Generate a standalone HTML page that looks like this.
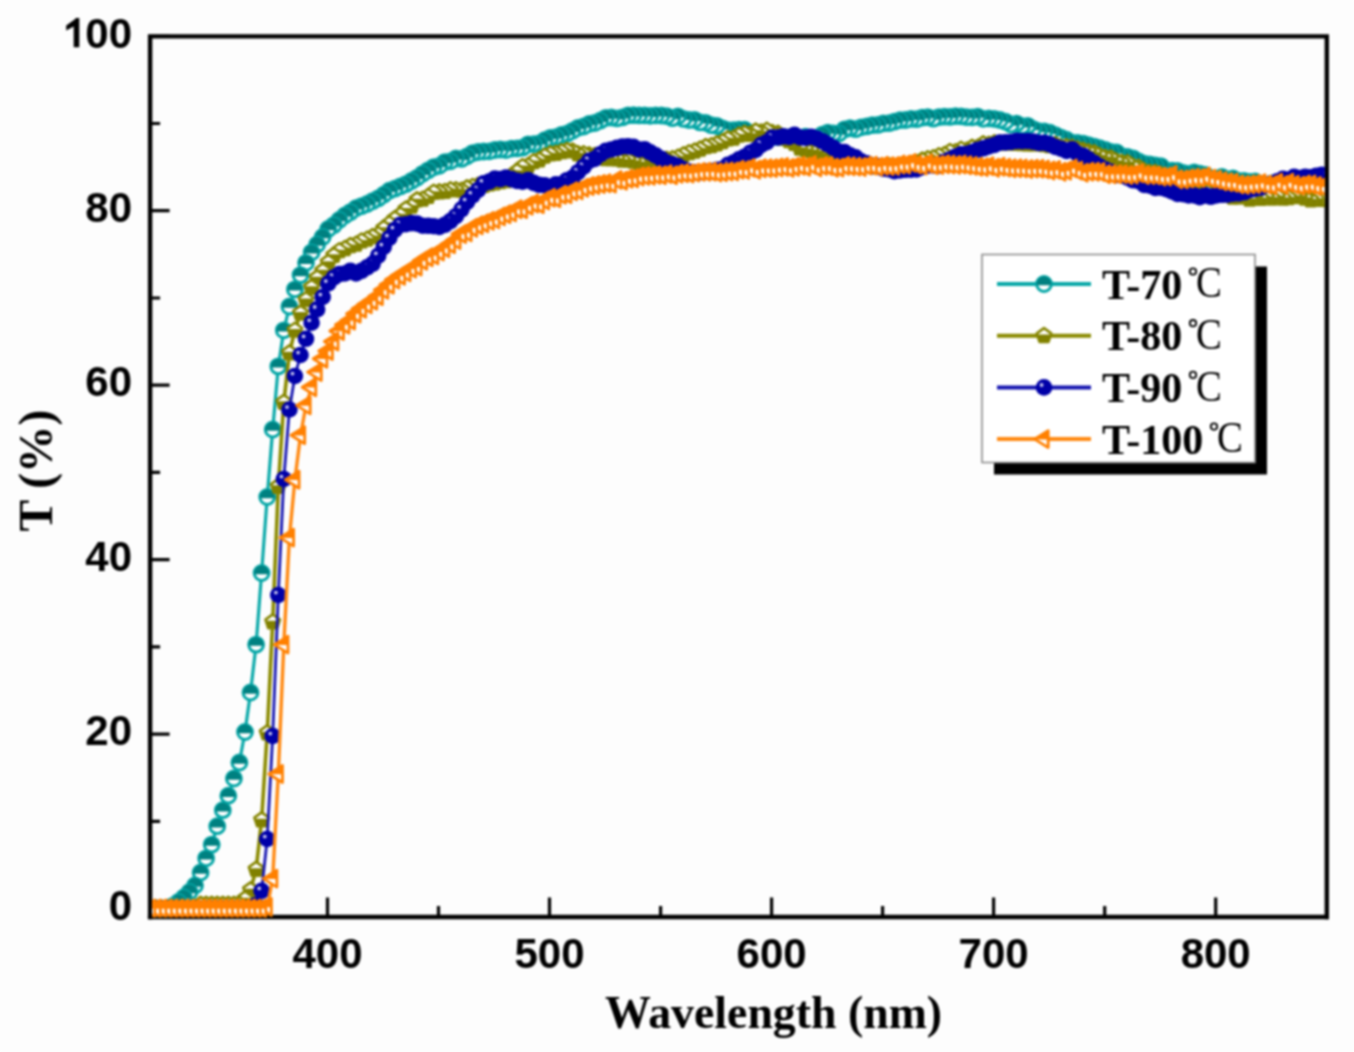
<!DOCTYPE html><html><head><meta charset="utf-8"><style>html,body{margin:0;padding:0;background:#fdfdfd;}svg{display:block;filter:blur(0.8px)}</style></head><body><svg width="1354" height="1052" viewBox="0 0 1354 1052"><defs><clipPath id="cp"><rect x="152.1" y="38.4" width="1172.7" height="879.2"/></clipPath><g id="mt"><circle r="7.4" fill="#fff" stroke="#04a6a6" stroke-width="3"/><path d="M-7.3,1.2A7.4,7.4 0 1 1 7.3,1.2Z" fill="#008080"/></g><g id="mo"><path d="M0,-7.6L7.23,-2.35L4.47,6.15L-4.47,6.15L-7.23,-2.35Z" fill="#fff" stroke="#858500" stroke-width="2.6" stroke-linejoin="round"/><path d="M-6.1,-1.2L6.1,-1.2L4.47,6.15L-4.47,6.15Z" fill="#808000"/></g><g id="mb"><circle r="8.3" fill="#0000a8"/><circle cx="-2.4" cy="-2.4" r="1.9" fill="#c4c4ee"/></g><g id="mr"><path d="M-9.5,0L4.2,-8.5L4.2,8.5Z" fill="#fff" stroke="#ff8000" stroke-width="2.8" stroke-linejoin="round"/><path d="M-9.5,0L4.2,-8.5L4.2,0.3L-9,0.3Z" fill="#ff8000"/></g></defs><rect width="1354" height="1052" fill="#fdfdfd"/><line x1="147.9" y1="917.0" x2="1329.0" y2="917.0" stroke="#000" stroke-width="4.4"/><path d="M150.1,919.2V36.4H1326.8V919.2" fill="none" stroke="#000" stroke-width="4.4" stroke-linejoin="miter"/><path d="M327.5,917.0V897.5M549.5,917.0V897.5M771.6,917.0V897.5M993.6,917.0V897.5M1215.7,917.0V897.5M216.5,917.0V906.0M438.5,917.0V906.0M660.6,917.0V906.0M882.6,917.0V906.0M1104.7,917.0V906.0M1326.7,917.0V906.0M150.1,908.5H169.6M150.1,734.1H169.6M150.1,559.6H169.6M150.1,385.2H169.6M150.1,210.7H169.6M150.1,36.3H169.6M150.1,821.3H160.1M150.1,646.8H160.1M150.1,472.4H160.1M150.1,298H160.1M150.1,123.5H160.1" stroke="#000" stroke-width="3.2" fill="none"/><g clip-path="url(#cp)"><polyline points="150.6,908.5 156.2,908.5 161.7,908.5 167.3,908.5 172.8,906 178.4,902 183.9,897.5 189.5,892 195,885.5 200.6,872.5 206.1,858.3 211.7,844.6 217.2,826.2 222.8,810.2 228.3,795.7 233.9,778.5 239.4,762.5 245,732 250.5,692.5 256.1,644.6 261.6,573 267.2,497 272.7,429.5 278.3,366.4 283.8,330.3 289.4,306.5 294.9,289.4 300.5,275.1 306,262.8 311.6,252.3 317.1,244.5 322.7,237 328.2,229 333.8,225.1 339.3,220 344.9,215.5 350.4,212.1 356,208.2 361.5,206.1 367.1,204 372.6,201.1 378.2,198.4 383.7,194.7 389.3,190.7 394.8,188.7 400.4,186.4 405.9,184.1 411.5,181 417,177.8 422.6,173.8 428.1,170.4 433.7,167.1 439.3,165.8 444.8,162.1 450.4,161.3 455.9,158.5 461.5,158.9 467,156.3 472.6,153.1 478.1,152 483.7,151.5 489.2,151.3 494.8,150 500.3,149.5 505.9,150 511.4,148.7 517,148.4 522.5,147.7 528.1,144.3 533.6,144.2 539.2,143.3 544.7,140.2 550.3,137.9 555.8,137.2 561.4,135 566.9,133.7 572.5,130.8 578,127.8 583.6,126.5 589.1,124 594.7,123 600.2,120.7 605.8,117.9 611.3,117.5 616.9,118.4 622.4,117.4 628,115.4 633.5,115.2 639.1,115.4 644.6,115.4 650.2,115.8 655.7,115.4 661.3,115.5 666.8,116.2 672.4,118.1 677.9,116.3 683.5,118.9 689,120 694.6,119.9 700.1,122.4 705.7,122.8 711.3,125.2 716.8,125.9 722.4,128.3 727.9,130.1 733.5,130.1 739,129.6 744.6,129.7 750.1,133.2 755.7,132.7 761.2,133.2 766.8,134.8 772.3,135.5 777.9,137.1 783.4,137.1 789,137.5 794.5,136.9 800.1,137.9 805.6,136.7 811.2,137.9 816.7,138 822.3,134.6 827.8,132.6 833.4,133.4 838.9,133.5 844.5,129.4 850,128.2 855.6,129.1 861.1,127.3 866.7,126.4 872.2,125.1 877.8,124.9 883.3,123.4 888.9,123.1 894.4,121.7 900,120.2 905.5,120 911.1,118.9 916.6,119.1 922.2,117.6 927.7,117.1 933.3,118.6 938.8,117.1 944.4,116.7 949.9,116.9 955.5,116.1 961,116.3 966.6,117.1 972.1,117.3 977.7,116.6 983.2,118.8 988.8,118.4 994.4,118.9 999.9,120 1005.5,121.6 1011,124.5 1016.6,123.6 1022.1,126.2 1027.7,125.9 1033.2,129.1 1038.8,131.1 1044.3,131.5 1049.9,132.7 1055.4,135.1 1061,137.6 1066.5,139.7 1072.1,142.7 1077.6,142.9 1083.2,143.6 1088.7,145.2 1094.3,146.6 1099.8,148.2 1105.4,149.8 1110.9,151.9 1116.5,152.3 1122,156.2 1127.6,157 1133.1,158.4 1138.7,161.5 1144.2,163.6 1149.8,164.3 1155.3,165.5 1160.9,166.1 1166.4,170.6 1172,170.6 1177.5,170.8 1183.1,173 1188.6,174 1194.2,172.3 1199.7,173.7 1205.3,175 1210.8,178.2 1216.4,179 1221.9,176.9 1227.5,179.6 1233,178.5 1238.6,181 1244.1,180.8 1249.7,181.9 1255.2,181.5 1260.8,184.6 1266.4,185.4 1271.9,183.5 1277.5,185.2 1283,184.9 1288.6,185.9 1294.1,185.3 1299.7,188.1 1305.2,186.2 1310.8,187 1316.3,187.9 1321.9,187.2 1327.4,187.7" fill="none" stroke="#08a8a8" stroke-width="3.2" stroke-linejoin="round"/><g><use href="#mt" x="1327.4" y="187.7"/><use href="#mt" x="1321.9" y="187.2"/><use href="#mt" x="1316.3" y="187.9"/><use href="#mt" x="1310.8" y="187"/><use href="#mt" x="1305.2" y="186.2"/><use href="#mt" x="1299.7" y="188.1"/><use href="#mt" x="1294.1" y="185.3"/><use href="#mt" x="1288.6" y="185.9"/><use href="#mt" x="1283" y="184.9"/><use href="#mt" x="1277.5" y="185.2"/><use href="#mt" x="1271.9" y="183.5"/><use href="#mt" x="1266.4" y="185.4"/><use href="#mt" x="1260.8" y="184.6"/><use href="#mt" x="1255.2" y="181.5"/><use href="#mt" x="1249.7" y="181.9"/><use href="#mt" x="1244.1" y="180.8"/><use href="#mt" x="1238.6" y="181"/><use href="#mt" x="1233" y="178.5"/><use href="#mt" x="1227.5" y="179.6"/><use href="#mt" x="1221.9" y="176.9"/><use href="#mt" x="1216.4" y="179"/><use href="#mt" x="1210.8" y="178.2"/><use href="#mt" x="1205.3" y="175"/><use href="#mt" x="1199.7" y="173.7"/><use href="#mt" x="1194.2" y="172.3"/><use href="#mt" x="1188.6" y="174"/><use href="#mt" x="1183.1" y="173"/><use href="#mt" x="1177.5" y="170.8"/><use href="#mt" x="1172" y="170.6"/><use href="#mt" x="1166.4" y="170.6"/><use href="#mt" x="1160.9" y="166.1"/><use href="#mt" x="1155.3" y="165.5"/><use href="#mt" x="1149.8" y="164.3"/><use href="#mt" x="1144.2" y="163.6"/><use href="#mt" x="1138.7" y="161.5"/><use href="#mt" x="1133.1" y="158.4"/><use href="#mt" x="1127.6" y="157"/><use href="#mt" x="1122" y="156.2"/><use href="#mt" x="1116.5" y="152.3"/><use href="#mt" x="1110.9" y="151.9"/><use href="#mt" x="1105.4" y="149.8"/><use href="#mt" x="1099.8" y="148.2"/><use href="#mt" x="1094.3" y="146.6"/><use href="#mt" x="1088.7" y="145.2"/><use href="#mt" x="1083.2" y="143.6"/><use href="#mt" x="1077.6" y="142.9"/><use href="#mt" x="1072.1" y="142.7"/><use href="#mt" x="1066.5" y="139.7"/><use href="#mt" x="1061" y="137.6"/><use href="#mt" x="1055.4" y="135.1"/><use href="#mt" x="1049.9" y="132.7"/><use href="#mt" x="1044.3" y="131.5"/><use href="#mt" x="1038.8" y="131.1"/><use href="#mt" x="1033.2" y="129.1"/><use href="#mt" x="1027.7" y="125.9"/><use href="#mt" x="1022.1" y="126.2"/><use href="#mt" x="1016.6" y="123.6"/><use href="#mt" x="1011" y="124.5"/><use href="#mt" x="1005.5" y="121.6"/><use href="#mt" x="999.9" y="120"/><use href="#mt" x="994.4" y="118.9"/><use href="#mt" x="988.8" y="118.4"/><use href="#mt" x="983.2" y="118.8"/><use href="#mt" x="977.7" y="116.6"/><use href="#mt" x="972.1" y="117.3"/><use href="#mt" x="966.6" y="117.1"/><use href="#mt" x="961" y="116.3"/><use href="#mt" x="955.5" y="116.1"/><use href="#mt" x="949.9" y="116.9"/><use href="#mt" x="944.4" y="116.7"/><use href="#mt" x="938.8" y="117.1"/><use href="#mt" x="933.3" y="118.6"/><use href="#mt" x="927.7" y="117.1"/><use href="#mt" x="922.2" y="117.6"/><use href="#mt" x="916.6" y="119.1"/><use href="#mt" x="911.1" y="118.9"/><use href="#mt" x="905.5" y="120"/><use href="#mt" x="900" y="120.2"/><use href="#mt" x="894.4" y="121.7"/><use href="#mt" x="888.9" y="123.1"/><use href="#mt" x="883.3" y="123.4"/><use href="#mt" x="877.8" y="124.9"/><use href="#mt" x="872.2" y="125.1"/><use href="#mt" x="866.7" y="126.4"/><use href="#mt" x="861.1" y="127.3"/><use href="#mt" x="855.6" y="129.1"/><use href="#mt" x="850" y="128.2"/><use href="#mt" x="844.5" y="129.4"/><use href="#mt" x="838.9" y="133.5"/><use href="#mt" x="833.4" y="133.4"/><use href="#mt" x="827.8" y="132.6"/><use href="#mt" x="822.3" y="134.6"/><use href="#mt" x="816.7" y="138"/><use href="#mt" x="811.2" y="137.9"/><use href="#mt" x="805.6" y="136.7"/><use href="#mt" x="800.1" y="137.9"/><use href="#mt" x="794.5" y="136.9"/><use href="#mt" x="789" y="137.5"/><use href="#mt" x="783.4" y="137.1"/><use href="#mt" x="777.9" y="137.1"/><use href="#mt" x="772.3" y="135.5"/><use href="#mt" x="766.8" y="134.8"/><use href="#mt" x="761.2" y="133.2"/><use href="#mt" x="755.7" y="132.7"/><use href="#mt" x="750.1" y="133.2"/><use href="#mt" x="744.6" y="129.7"/><use href="#mt" x="739" y="129.6"/><use href="#mt" x="733.5" y="130.1"/><use href="#mt" x="727.9" y="130.1"/><use href="#mt" x="722.4" y="128.3"/><use href="#mt" x="716.8" y="125.9"/><use href="#mt" x="711.3" y="125.2"/><use href="#mt" x="705.7" y="122.8"/><use href="#mt" x="700.1" y="122.4"/><use href="#mt" x="694.6" y="119.9"/><use href="#mt" x="689" y="120"/><use href="#mt" x="683.5" y="118.9"/><use href="#mt" x="677.9" y="116.3"/><use href="#mt" x="672.4" y="118.1"/><use href="#mt" x="666.8" y="116.2"/><use href="#mt" x="661.3" y="115.5"/><use href="#mt" x="655.7" y="115.4"/><use href="#mt" x="650.2" y="115.8"/><use href="#mt" x="644.6" y="115.4"/><use href="#mt" x="639.1" y="115.4"/><use href="#mt" x="633.5" y="115.2"/><use href="#mt" x="628" y="115.4"/><use href="#mt" x="622.4" y="117.4"/><use href="#mt" x="616.9" y="118.4"/><use href="#mt" x="611.3" y="117.5"/><use href="#mt" x="605.8" y="117.9"/><use href="#mt" x="600.2" y="120.7"/><use href="#mt" x="594.7" y="123"/><use href="#mt" x="589.1" y="124"/><use href="#mt" x="583.6" y="126.5"/><use href="#mt" x="578" y="127.8"/><use href="#mt" x="572.5" y="130.8"/><use href="#mt" x="566.9" y="133.7"/><use href="#mt" x="561.4" y="135"/><use href="#mt" x="555.8" y="137.2"/><use href="#mt" x="550.3" y="137.9"/><use href="#mt" x="544.7" y="140.2"/><use href="#mt" x="539.2" y="143.3"/><use href="#mt" x="533.6" y="144.2"/><use href="#mt" x="528.1" y="144.3"/><use href="#mt" x="522.5" y="147.7"/><use href="#mt" x="517" y="148.4"/><use href="#mt" x="511.4" y="148.7"/><use href="#mt" x="505.9" y="150"/><use href="#mt" x="500.3" y="149.5"/><use href="#mt" x="494.8" y="150"/><use href="#mt" x="489.2" y="151.3"/><use href="#mt" x="483.7" y="151.5"/><use href="#mt" x="478.1" y="152"/><use href="#mt" x="472.6" y="153.1"/><use href="#mt" x="467" y="156.3"/><use href="#mt" x="461.5" y="158.9"/><use href="#mt" x="455.9" y="158.5"/><use href="#mt" x="450.4" y="161.3"/><use href="#mt" x="444.8" y="162.1"/><use href="#mt" x="439.3" y="165.8"/><use href="#mt" x="433.7" y="167.1"/><use href="#mt" x="428.1" y="170.4"/><use href="#mt" x="422.6" y="173.8"/><use href="#mt" x="417" y="177.8"/><use href="#mt" x="411.5" y="181"/><use href="#mt" x="405.9" y="184.1"/><use href="#mt" x="400.4" y="186.4"/><use href="#mt" x="394.8" y="188.7"/><use href="#mt" x="389.3" y="190.7"/><use href="#mt" x="383.7" y="194.7"/><use href="#mt" x="378.2" y="198.4"/><use href="#mt" x="372.6" y="201.1"/><use href="#mt" x="367.1" y="204"/><use href="#mt" x="361.5" y="206.1"/><use href="#mt" x="356" y="208.2"/><use href="#mt" x="350.4" y="212.1"/><use href="#mt" x="344.9" y="215.5"/><use href="#mt" x="339.3" y="220"/><use href="#mt" x="333.8" y="225.1"/><use href="#mt" x="328.2" y="229"/><use href="#mt" x="322.7" y="237"/><use href="#mt" x="317.1" y="244.5"/><use href="#mt" x="311.6" y="252.3"/><use href="#mt" x="306" y="262.8"/><use href="#mt" x="300.5" y="275.1"/><use href="#mt" x="294.9" y="289.4"/><use href="#mt" x="289.4" y="306.5"/><use href="#mt" x="283.8" y="330.3"/><use href="#mt" x="278.3" y="366.4"/><use href="#mt" x="272.7" y="429.5"/><use href="#mt" x="267.2" y="497"/><use href="#mt" x="261.6" y="573"/><use href="#mt" x="256.1" y="644.6"/><use href="#mt" x="250.5" y="692.5"/><use href="#mt" x="245" y="732"/><use href="#mt" x="239.4" y="762.5"/><use href="#mt" x="233.9" y="778.5"/><use href="#mt" x="228.3" y="795.7"/><use href="#mt" x="222.8" y="810.2"/><use href="#mt" x="217.2" y="826.2"/><use href="#mt" x="211.7" y="844.6"/><use href="#mt" x="206.1" y="858.3"/><use href="#mt" x="200.6" y="872.5"/><use href="#mt" x="195" y="885.5"/><use href="#mt" x="189.5" y="892"/><use href="#mt" x="183.9" y="897.5"/><use href="#mt" x="178.4" y="902"/><use href="#mt" x="172.8" y="906"/><use href="#mt" x="167.3" y="908.5"/><use href="#mt" x="161.7" y="908.5"/><use href="#mt" x="156.2" y="908.5"/><use href="#mt" x="150.6" y="908.5"/></g><polyline points="150.6,908.5 156.2,908.5 161.7,908.5 167.3,908.5 172.8,908.5 178.4,908.5 183.9,908.5 189.5,908.5 195,908.5 200.6,904.5 206.1,904.5 211.7,904.5 217.2,904.5 222.8,904.5 228.3,904.5 233.9,904.5 239.4,904.5 245,899 250.5,890 256.1,869.5 261.6,820 267.2,733 272.7,622 278.3,486.5 283.8,402.5 289.4,353 294.9,330.3 300.5,313.2 306,299.8 311.6,287.5 317.1,278 322.7,271 328.2,262.5 333.8,255.5 339.3,250.9 344.9,248.7 350.4,245.7 356,244.4 361.5,241.1 367.1,239.3 372.6,236.7 378.2,234.6 383.7,228.5 389.3,223.8 394.8,219 400.4,215 405.9,209.2 411.5,206.2 417,200 422.6,199.4 428.1,196.6 433.7,192.4 439.3,192 444.8,191.6 450.4,189.8 455.9,189.9 461.5,190.4 467,188 472.6,186.6 478.1,185.4 483.7,185.6 489.2,184 494.8,183 500.3,181.9 505.9,180.9 511.4,176.2 517,171.5 522.5,166.8 528.1,165.9 533.6,161.8 539.2,160 544.7,156.3 550.3,154 555.8,153.5 561.4,151.9 566.9,150.5 572.5,151.1 578,154 583.6,153.9 589.1,155 594.7,155.7 600.2,156.5 605.8,158.7 611.3,158.9 616.9,159.1 622.4,160.3 628,160.1 633.5,161.4 639.1,162.6 644.6,161.2 650.2,163.1 655.7,161.2 661.3,161.2 666.8,159.5 672.4,158.8 677.9,157.3 683.5,155 689,152.9 694.6,151.2 700.1,149.2 705.7,146.7 711.3,145.8 716.8,144 722.4,141.8 727.9,139 733.5,138.4 739,135.2 744.6,133.5 750.1,134.5 755.7,131.2 761.2,132.1 766.8,130.3 772.3,132.7 777.9,133.5 783.4,138.4 789,140.8 794.5,143.6 800.1,148.4 805.6,149.6 811.2,150.6 816.7,151.5 822.3,153.5 827.8,154.9 833.4,157.2 838.9,158.8 844.5,159.1 850,160.6 855.6,162.1 861.1,163 866.7,165.1 872.2,166.3 877.8,167.1 883.3,167.6 888.9,165.9 894.4,166.9 900,165.7 905.5,166.6 911.1,163.7 916.6,162.9 922.2,160.2 927.7,158.8 933.3,157.9 938.8,155.8 944.4,154.7 949.9,151.6 955.5,152 961,149.4 966.6,150.3 972.1,147.5 977.7,147.4 983.2,144 988.8,144.4 994.4,142.9 999.9,143.1 1005.5,143.4 1011,143.1 1016.6,143.5 1022.1,143.9 1027.7,144.1 1033.2,144.1 1038.8,143.7 1044.3,144.8 1049.9,145.8 1055.4,144.7 1061,147.4 1066.5,147 1072.1,147.5 1077.6,149.2 1083.2,150.5 1088.7,152 1094.3,153 1099.8,155.9 1105.4,157.6 1110.9,158.2 1116.5,161.4 1122,162.7 1127.6,162.8 1133.1,166.6 1138.7,167.5 1144.2,171.2 1149.8,172.6 1155.3,172.7 1160.9,174.6 1166.4,177.2 1172,179 1177.5,182.6 1183.1,184 1188.6,185.1 1194.2,187.5 1199.7,187 1205.3,190.5 1210.8,192.4 1216.4,192.7 1221.9,193.4 1227.5,195.4 1233,197.4 1238.6,197 1244.1,196.7 1249.7,199.4 1255.2,196.9 1260.8,198.6 1266.4,197.4 1271.9,198.2 1277.5,196.6 1283,198.4 1288.6,197.9 1294.1,196.6 1299.7,196.8 1305.2,198.4 1310.8,200 1316.3,199.4 1321.9,199.6 1327.4,199.7" fill="none" stroke="#8a8a00" stroke-width="3.6" stroke-linejoin="round"/><g><use href="#mo" x="1327.4" y="199.7"/><use href="#mo" x="1321.9" y="199.6"/><use href="#mo" x="1316.3" y="199.4"/><use href="#mo" x="1310.8" y="200"/><use href="#mo" x="1305.2" y="198.4"/><use href="#mo" x="1299.7" y="196.8"/><use href="#mo" x="1294.1" y="196.6"/><use href="#mo" x="1288.6" y="197.9"/><use href="#mo" x="1283" y="198.4"/><use href="#mo" x="1277.5" y="196.6"/><use href="#mo" x="1271.9" y="198.2"/><use href="#mo" x="1266.4" y="197.4"/><use href="#mo" x="1260.8" y="198.6"/><use href="#mo" x="1255.2" y="196.9"/><use href="#mo" x="1249.7" y="199.4"/><use href="#mo" x="1244.1" y="196.7"/><use href="#mo" x="1238.6" y="197"/><use href="#mo" x="1233" y="197.4"/><use href="#mo" x="1227.5" y="195.4"/><use href="#mo" x="1221.9" y="193.4"/><use href="#mo" x="1216.4" y="192.7"/><use href="#mo" x="1210.8" y="192.4"/><use href="#mo" x="1205.3" y="190.5"/><use href="#mo" x="1199.7" y="187"/><use href="#mo" x="1194.2" y="187.5"/><use href="#mo" x="1188.6" y="185.1"/><use href="#mo" x="1183.1" y="184"/><use href="#mo" x="1177.5" y="182.6"/><use href="#mo" x="1172" y="179"/><use href="#mo" x="1166.4" y="177.2"/><use href="#mo" x="1160.9" y="174.6"/><use href="#mo" x="1155.3" y="172.7"/><use href="#mo" x="1149.8" y="172.6"/><use href="#mo" x="1144.2" y="171.2"/><use href="#mo" x="1138.7" y="167.5"/><use href="#mo" x="1133.1" y="166.6"/><use href="#mo" x="1127.6" y="162.8"/><use href="#mo" x="1122" y="162.7"/><use href="#mo" x="1116.5" y="161.4"/><use href="#mo" x="1110.9" y="158.2"/><use href="#mo" x="1105.4" y="157.6"/><use href="#mo" x="1099.8" y="155.9"/><use href="#mo" x="1094.3" y="153"/><use href="#mo" x="1088.7" y="152"/><use href="#mo" x="1083.2" y="150.5"/><use href="#mo" x="1077.6" y="149.2"/><use href="#mo" x="1072.1" y="147.5"/><use href="#mo" x="1066.5" y="147"/><use href="#mo" x="1061" y="147.4"/><use href="#mo" x="1055.4" y="144.7"/><use href="#mo" x="1049.9" y="145.8"/><use href="#mo" x="1044.3" y="144.8"/><use href="#mo" x="1038.8" y="143.7"/><use href="#mo" x="1033.2" y="144.1"/><use href="#mo" x="1027.7" y="144.1"/><use href="#mo" x="1022.1" y="143.9"/><use href="#mo" x="1016.6" y="143.5"/><use href="#mo" x="1011" y="143.1"/><use href="#mo" x="1005.5" y="143.4"/><use href="#mo" x="999.9" y="143.1"/><use href="#mo" x="994.4" y="142.9"/><use href="#mo" x="988.8" y="144.4"/><use href="#mo" x="983.2" y="144"/><use href="#mo" x="977.7" y="147.4"/><use href="#mo" x="972.1" y="147.5"/><use href="#mo" x="966.6" y="150.3"/><use href="#mo" x="961" y="149.4"/><use href="#mo" x="955.5" y="152"/><use href="#mo" x="949.9" y="151.6"/><use href="#mo" x="944.4" y="154.7"/><use href="#mo" x="938.8" y="155.8"/><use href="#mo" x="933.3" y="157.9"/><use href="#mo" x="927.7" y="158.8"/><use href="#mo" x="922.2" y="160.2"/><use href="#mo" x="916.6" y="162.9"/><use href="#mo" x="911.1" y="163.7"/><use href="#mo" x="905.5" y="166.6"/><use href="#mo" x="900" y="165.7"/><use href="#mo" x="894.4" y="166.9"/><use href="#mo" x="888.9" y="165.9"/><use href="#mo" x="883.3" y="167.6"/><use href="#mo" x="877.8" y="167.1"/><use href="#mo" x="872.2" y="166.3"/><use href="#mo" x="866.7" y="165.1"/><use href="#mo" x="861.1" y="163"/><use href="#mo" x="855.6" y="162.1"/><use href="#mo" x="850" y="160.6"/><use href="#mo" x="844.5" y="159.1"/><use href="#mo" x="838.9" y="158.8"/><use href="#mo" x="833.4" y="157.2"/><use href="#mo" x="827.8" y="154.9"/><use href="#mo" x="822.3" y="153.5"/><use href="#mo" x="816.7" y="151.5"/><use href="#mo" x="811.2" y="150.6"/><use href="#mo" x="805.6" y="149.6"/><use href="#mo" x="800.1" y="148.4"/><use href="#mo" x="794.5" y="143.6"/><use href="#mo" x="789" y="140.8"/><use href="#mo" x="783.4" y="138.4"/><use href="#mo" x="777.9" y="133.5"/><use href="#mo" x="772.3" y="132.7"/><use href="#mo" x="766.8" y="130.3"/><use href="#mo" x="761.2" y="132.1"/><use href="#mo" x="755.7" y="131.2"/><use href="#mo" x="750.1" y="134.5"/><use href="#mo" x="744.6" y="133.5"/><use href="#mo" x="739" y="135.2"/><use href="#mo" x="733.5" y="138.4"/><use href="#mo" x="727.9" y="139"/><use href="#mo" x="722.4" y="141.8"/><use href="#mo" x="716.8" y="144"/><use href="#mo" x="711.3" y="145.8"/><use href="#mo" x="705.7" y="146.7"/><use href="#mo" x="700.1" y="149.2"/><use href="#mo" x="694.6" y="151.2"/><use href="#mo" x="689" y="152.9"/><use href="#mo" x="683.5" y="155"/><use href="#mo" x="677.9" y="157.3"/><use href="#mo" x="672.4" y="158.8"/><use href="#mo" x="666.8" y="159.5"/><use href="#mo" x="661.3" y="161.2"/><use href="#mo" x="655.7" y="161.2"/><use href="#mo" x="650.2" y="163.1"/><use href="#mo" x="644.6" y="161.2"/><use href="#mo" x="639.1" y="162.6"/><use href="#mo" x="633.5" y="161.4"/><use href="#mo" x="628" y="160.1"/><use href="#mo" x="622.4" y="160.3"/><use href="#mo" x="616.9" y="159.1"/><use href="#mo" x="611.3" y="158.9"/><use href="#mo" x="605.8" y="158.7"/><use href="#mo" x="600.2" y="156.5"/><use href="#mo" x="594.7" y="155.7"/><use href="#mo" x="589.1" y="155"/><use href="#mo" x="583.6" y="153.9"/><use href="#mo" x="578" y="154"/><use href="#mo" x="572.5" y="151.1"/><use href="#mo" x="566.9" y="150.5"/><use href="#mo" x="561.4" y="151.9"/><use href="#mo" x="555.8" y="153.5"/><use href="#mo" x="550.3" y="154"/><use href="#mo" x="544.7" y="156.3"/><use href="#mo" x="539.2" y="160"/><use href="#mo" x="533.6" y="161.8"/><use href="#mo" x="528.1" y="165.9"/><use href="#mo" x="522.5" y="166.8"/><use href="#mo" x="517" y="171.5"/><use href="#mo" x="511.4" y="176.2"/><use href="#mo" x="505.9" y="180.9"/><use href="#mo" x="500.3" y="181.9"/><use href="#mo" x="494.8" y="183"/><use href="#mo" x="489.2" y="184"/><use href="#mo" x="483.7" y="185.6"/><use href="#mo" x="478.1" y="185.4"/><use href="#mo" x="472.6" y="186.6"/><use href="#mo" x="467" y="188"/><use href="#mo" x="461.5" y="190.4"/><use href="#mo" x="455.9" y="189.9"/><use href="#mo" x="450.4" y="189.8"/><use href="#mo" x="444.8" y="191.6"/><use href="#mo" x="439.3" y="192"/><use href="#mo" x="433.7" y="192.4"/><use href="#mo" x="428.1" y="196.6"/><use href="#mo" x="422.6" y="199.4"/><use href="#mo" x="417" y="200"/><use href="#mo" x="411.5" y="206.2"/><use href="#mo" x="405.9" y="209.2"/><use href="#mo" x="400.4" y="215"/><use href="#mo" x="394.8" y="219"/><use href="#mo" x="389.3" y="223.8"/><use href="#mo" x="383.7" y="228.5"/><use href="#mo" x="378.2" y="234.6"/><use href="#mo" x="372.6" y="236.7"/><use href="#mo" x="367.1" y="239.3"/><use href="#mo" x="361.5" y="241.1"/><use href="#mo" x="356" y="244.4"/><use href="#mo" x="350.4" y="245.7"/><use href="#mo" x="344.9" y="248.7"/><use href="#mo" x="339.3" y="250.9"/><use href="#mo" x="333.8" y="255.5"/><use href="#mo" x="328.2" y="262.5"/><use href="#mo" x="322.7" y="271"/><use href="#mo" x="317.1" y="278"/><use href="#mo" x="311.6" y="287.5"/><use href="#mo" x="306" y="299.8"/><use href="#mo" x="300.5" y="313.2"/><use href="#mo" x="294.9" y="330.3"/><use href="#mo" x="289.4" y="353"/><use href="#mo" x="283.8" y="402.5"/><use href="#mo" x="278.3" y="486.5"/><use href="#mo" x="272.7" y="622"/><use href="#mo" x="267.2" y="733"/><use href="#mo" x="261.6" y="820"/><use href="#mo" x="256.1" y="869.5"/><use href="#mo" x="250.5" y="890"/><use href="#mo" x="245" y="899"/><use href="#mo" x="239.4" y="904.5"/><use href="#mo" x="233.9" y="904.5"/><use href="#mo" x="228.3" y="904.5"/><use href="#mo" x="222.8" y="904.5"/><use href="#mo" x="217.2" y="904.5"/><use href="#mo" x="211.7" y="904.5"/><use href="#mo" x="206.1" y="904.5"/><use href="#mo" x="200.6" y="904.5"/><use href="#mo" x="195" y="908.5"/><use href="#mo" x="189.5" y="908.5"/><use href="#mo" x="183.9" y="908.5"/><use href="#mo" x="178.4" y="908.5"/><use href="#mo" x="172.8" y="908.5"/><use href="#mo" x="167.3" y="908.5"/><use href="#mo" x="161.7" y="908.5"/><use href="#mo" x="156.2" y="908.5"/><use href="#mo" x="150.6" y="908.5"/></g><polyline points="150.6,908.5 156.2,908.5 161.7,908.5 167.3,908.5 172.8,908.5 178.4,908.5 183.9,908.5 189.5,908.5 195,908.5 200.6,908.5 206.1,908.5 211.7,908.5 217.2,908.5 222.8,908.5 228.3,908.5 233.9,908.5 239.4,908.5 245,908.5 250.5,908.5 256.1,905 261.6,890.8 267.2,839 272.7,736 278.3,595 283.8,479 289.4,409.5 294.9,376 300.5,355 306,338.8 311.6,322.7 317.1,309.4 322.7,297 328.2,283.5 333.8,277.5 339.3,274.1 344.9,273.5 350.4,270.7 356,273.4 361.5,270.8 367.1,267.3 372.6,263.8 378.2,255.7 383.7,247 389.3,238 394.8,230 400.4,224.8 405.9,224.2 411.5,223.1 417,223.6 422.6,225.7 428.1,225.8 433.7,226.2 439.3,227 444.8,224.8 450.4,221.1 455.9,216.2 461.5,209.3 467,202 472.6,195.3 478.1,190 483.7,183.4 489.2,181.6 494.8,178.5 500.3,179.1 505.9,177.5 511.4,179.1 517,180.9 522.5,181.7 528.1,180.1 533.6,182.9 539.2,184.8 544.7,185.2 550.3,187.2 555.8,184.3 561.4,184.2 566.9,180.2 572.5,177.9 578,172.2 583.6,166.7 589.1,160.9 594.7,158.9 600.2,154.3 605.8,150.9 611.3,149.5 616.9,147.9 622.4,146.5 628,146.4 633.5,146.9 639.1,149.5 644.6,149.2 650.2,152.4 655.7,155.4 661.3,158.9 666.8,162.5 672.4,164.2 677.9,166.1 683.5,169.3 689,171.5 694.6,172.2 700.1,172.2 705.7,171.5 711.3,171.3 716.8,169.9 722.4,169.1 727.9,164.9 733.5,162.5 739,159.3 744.6,156.7 750.1,152.9 755.7,150 761.2,144.9 766.8,142.2 772.3,137.5 777.9,137.5 783.4,136.4 789,137 794.5,134.8 800.1,137.5 805.6,137.8 811.2,136.7 816.7,138.5 822.3,141.2 827.8,144.5 833.4,147.9 838.9,151.6 844.5,152 850,155.2 855.6,157.4 861.1,161.4 866.7,163.2 872.2,166.1 877.8,166.1 883.3,168.7 888.9,169.3 894.4,171.2 900,170.5 905.5,169.8 911.1,169.6 916.6,169.5 922.2,167.1 927.7,165.7 933.3,165.5 938.8,165.7 944.4,161.9 949.9,159.6 955.5,156.7 961,154.3 966.6,153.8 972.1,152.2 977.7,149.7 983.2,148.3 988.8,146.5 994.4,145 999.9,142.6 1005.5,142.4 1011,142 1016.6,140.9 1022.1,141.2 1027.7,141 1033.2,141.6 1038.8,142.9 1044.3,142.8 1049.9,144.3 1055.4,147 1061,148.7 1066.5,150.9 1072.1,149.4 1077.6,153.8 1083.2,155.7 1088.7,159.4 1094.3,163.1 1099.8,166.5 1105.4,169.6 1110.9,171.7 1116.5,175 1122,175.6 1127.6,177.7 1133.1,180.3 1138.7,181.1 1144.2,184.9 1149.8,185.6 1155.3,187.9 1160.9,187.6 1166.4,189.1 1172,191.5 1177.5,193.9 1183.1,194.2 1188.6,195.5 1194.2,195.5 1199.7,197.1 1205.3,195.4 1210.8,196.8 1216.4,195.4 1221.9,194.8 1227.5,194.6 1233,193.7 1238.6,193.4 1244.1,192.3 1249.7,189.8 1255.2,188.6 1260.8,187.7 1266.4,184.9 1271.9,183.2 1277.5,181.2 1283,178.9 1288.6,179.8 1294.1,176.8 1299.7,178 1305.2,176.8 1310.8,177.2 1316.3,175.7 1321.9,174.7 1327.4,175.4" fill="none" stroke="#1414b0" stroke-width="2.8" stroke-linejoin="round"/><g><use href="#mb" x="1327.4" y="175.4"/><use href="#mb" x="1321.9" y="174.7"/><use href="#mb" x="1316.3" y="175.7"/><use href="#mb" x="1310.8" y="177.2"/><use href="#mb" x="1305.2" y="176.8"/><use href="#mb" x="1299.7" y="178"/><use href="#mb" x="1294.1" y="176.8"/><use href="#mb" x="1288.6" y="179.8"/><use href="#mb" x="1283" y="178.9"/><use href="#mb" x="1277.5" y="181.2"/><use href="#mb" x="1271.9" y="183.2"/><use href="#mb" x="1266.4" y="184.9"/><use href="#mb" x="1260.8" y="187.7"/><use href="#mb" x="1255.2" y="188.6"/><use href="#mb" x="1249.7" y="189.8"/><use href="#mb" x="1244.1" y="192.3"/><use href="#mb" x="1238.6" y="193.4"/><use href="#mb" x="1233" y="193.7"/><use href="#mb" x="1227.5" y="194.6"/><use href="#mb" x="1221.9" y="194.8"/><use href="#mb" x="1216.4" y="195.4"/><use href="#mb" x="1210.8" y="196.8"/><use href="#mb" x="1205.3" y="195.4"/><use href="#mb" x="1199.7" y="197.1"/><use href="#mb" x="1194.2" y="195.5"/><use href="#mb" x="1188.6" y="195.5"/><use href="#mb" x="1183.1" y="194.2"/><use href="#mb" x="1177.5" y="193.9"/><use href="#mb" x="1172" y="191.5"/><use href="#mb" x="1166.4" y="189.1"/><use href="#mb" x="1160.9" y="187.6"/><use href="#mb" x="1155.3" y="187.9"/><use href="#mb" x="1149.8" y="185.6"/><use href="#mb" x="1144.2" y="184.9"/><use href="#mb" x="1138.7" y="181.1"/><use href="#mb" x="1133.1" y="180.3"/><use href="#mb" x="1127.6" y="177.7"/><use href="#mb" x="1122" y="175.6"/><use href="#mb" x="1116.5" y="175"/><use href="#mb" x="1110.9" y="171.7"/><use href="#mb" x="1105.4" y="169.6"/><use href="#mb" x="1099.8" y="166.5"/><use href="#mb" x="1094.3" y="163.1"/><use href="#mb" x="1088.7" y="159.4"/><use href="#mb" x="1083.2" y="155.7"/><use href="#mb" x="1077.6" y="153.8"/><use href="#mb" x="1072.1" y="149.4"/><use href="#mb" x="1066.5" y="150.9"/><use href="#mb" x="1061" y="148.7"/><use href="#mb" x="1055.4" y="147"/><use href="#mb" x="1049.9" y="144.3"/><use href="#mb" x="1044.3" y="142.8"/><use href="#mb" x="1038.8" y="142.9"/><use href="#mb" x="1033.2" y="141.6"/><use href="#mb" x="1027.7" y="141"/><use href="#mb" x="1022.1" y="141.2"/><use href="#mb" x="1016.6" y="140.9"/><use href="#mb" x="1011" y="142"/><use href="#mb" x="1005.5" y="142.4"/><use href="#mb" x="999.9" y="142.6"/><use href="#mb" x="994.4" y="145"/><use href="#mb" x="988.8" y="146.5"/><use href="#mb" x="983.2" y="148.3"/><use href="#mb" x="977.7" y="149.7"/><use href="#mb" x="972.1" y="152.2"/><use href="#mb" x="966.6" y="153.8"/><use href="#mb" x="961" y="154.3"/><use href="#mb" x="955.5" y="156.7"/><use href="#mb" x="949.9" y="159.6"/><use href="#mb" x="944.4" y="161.9"/><use href="#mb" x="938.8" y="165.7"/><use href="#mb" x="933.3" y="165.5"/><use href="#mb" x="927.7" y="165.7"/><use href="#mb" x="922.2" y="167.1"/><use href="#mb" x="916.6" y="169.5"/><use href="#mb" x="911.1" y="169.6"/><use href="#mb" x="905.5" y="169.8"/><use href="#mb" x="900" y="170.5"/><use href="#mb" x="894.4" y="171.2"/><use href="#mb" x="888.9" y="169.3"/><use href="#mb" x="883.3" y="168.7"/><use href="#mb" x="877.8" y="166.1"/><use href="#mb" x="872.2" y="166.1"/><use href="#mb" x="866.7" y="163.2"/><use href="#mb" x="861.1" y="161.4"/><use href="#mb" x="855.6" y="157.4"/><use href="#mb" x="850" y="155.2"/><use href="#mb" x="844.5" y="152"/><use href="#mb" x="838.9" y="151.6"/><use href="#mb" x="833.4" y="147.9"/><use href="#mb" x="827.8" y="144.5"/><use href="#mb" x="822.3" y="141.2"/><use href="#mb" x="816.7" y="138.5"/><use href="#mb" x="811.2" y="136.7"/><use href="#mb" x="805.6" y="137.8"/><use href="#mb" x="800.1" y="137.5"/><use href="#mb" x="794.5" y="134.8"/><use href="#mb" x="789" y="137"/><use href="#mb" x="783.4" y="136.4"/><use href="#mb" x="777.9" y="137.5"/><use href="#mb" x="772.3" y="137.5"/><use href="#mb" x="766.8" y="142.2"/><use href="#mb" x="761.2" y="144.9"/><use href="#mb" x="755.7" y="150"/><use href="#mb" x="750.1" y="152.9"/><use href="#mb" x="744.6" y="156.7"/><use href="#mb" x="739" y="159.3"/><use href="#mb" x="733.5" y="162.5"/><use href="#mb" x="727.9" y="164.9"/><use href="#mb" x="722.4" y="169.1"/><use href="#mb" x="716.8" y="169.9"/><use href="#mb" x="711.3" y="171.3"/><use href="#mb" x="705.7" y="171.5"/><use href="#mb" x="700.1" y="172.2"/><use href="#mb" x="694.6" y="172.2"/><use href="#mb" x="689" y="171.5"/><use href="#mb" x="683.5" y="169.3"/><use href="#mb" x="677.9" y="166.1"/><use href="#mb" x="672.4" y="164.2"/><use href="#mb" x="666.8" y="162.5"/><use href="#mb" x="661.3" y="158.9"/><use href="#mb" x="655.7" y="155.4"/><use href="#mb" x="650.2" y="152.4"/><use href="#mb" x="644.6" y="149.2"/><use href="#mb" x="639.1" y="149.5"/><use href="#mb" x="633.5" y="146.9"/><use href="#mb" x="628" y="146.4"/><use href="#mb" x="622.4" y="146.5"/><use href="#mb" x="616.9" y="147.9"/><use href="#mb" x="611.3" y="149.5"/><use href="#mb" x="605.8" y="150.9"/><use href="#mb" x="600.2" y="154.3"/><use href="#mb" x="594.7" y="158.9"/><use href="#mb" x="589.1" y="160.9"/><use href="#mb" x="583.6" y="166.7"/><use href="#mb" x="578" y="172.2"/><use href="#mb" x="572.5" y="177.9"/><use href="#mb" x="566.9" y="180.2"/><use href="#mb" x="561.4" y="184.2"/><use href="#mb" x="555.8" y="184.3"/><use href="#mb" x="550.3" y="187.2"/><use href="#mb" x="544.7" y="185.2"/><use href="#mb" x="539.2" y="184.8"/><use href="#mb" x="533.6" y="182.9"/><use href="#mb" x="528.1" y="180.1"/><use href="#mb" x="522.5" y="181.7"/><use href="#mb" x="517" y="180.9"/><use href="#mb" x="511.4" y="179.1"/><use href="#mb" x="505.9" y="177.5"/><use href="#mb" x="500.3" y="179.1"/><use href="#mb" x="494.8" y="178.5"/><use href="#mb" x="489.2" y="181.6"/><use href="#mb" x="483.7" y="183.4"/><use href="#mb" x="478.1" y="190"/><use href="#mb" x="472.6" y="195.3"/><use href="#mb" x="467" y="202"/><use href="#mb" x="461.5" y="209.3"/><use href="#mb" x="455.9" y="216.2"/><use href="#mb" x="450.4" y="221.1"/><use href="#mb" x="444.8" y="224.8"/><use href="#mb" x="439.3" y="227"/><use href="#mb" x="433.7" y="226.2"/><use href="#mb" x="428.1" y="225.8"/><use href="#mb" x="422.6" y="225.7"/><use href="#mb" x="417" y="223.6"/><use href="#mb" x="411.5" y="223.1"/><use href="#mb" x="405.9" y="224.2"/><use href="#mb" x="400.4" y="224.8"/><use href="#mb" x="394.8" y="230"/><use href="#mb" x="389.3" y="238"/><use href="#mb" x="383.7" y="247"/><use href="#mb" x="378.2" y="255.7"/><use href="#mb" x="372.6" y="263.8"/><use href="#mb" x="367.1" y="267.3"/><use href="#mb" x="361.5" y="270.8"/><use href="#mb" x="356" y="273.4"/><use href="#mb" x="350.4" y="270.7"/><use href="#mb" x="344.9" y="273.5"/><use href="#mb" x="339.3" y="274.1"/><use href="#mb" x="333.8" y="277.5"/><use href="#mb" x="328.2" y="283.5"/><use href="#mb" x="322.7" y="297"/><use href="#mb" x="317.1" y="309.4"/><use href="#mb" x="311.6" y="322.7"/><use href="#mb" x="306" y="338.8"/><use href="#mb" x="300.5" y="355"/><use href="#mb" x="294.9" y="376"/><use href="#mb" x="289.4" y="409.5"/><use href="#mb" x="283.8" y="479"/><use href="#mb" x="278.3" y="595"/><use href="#mb" x="272.7" y="736"/><use href="#mb" x="267.2" y="839"/><use href="#mb" x="261.6" y="890.8"/><use href="#mb" x="256.1" y="905"/><use href="#mb" x="250.5" y="908.5"/><use href="#mb" x="245" y="908.5"/><use href="#mb" x="239.4" y="908.5"/><use href="#mb" x="233.9" y="908.5"/><use href="#mb" x="228.3" y="908.5"/><use href="#mb" x="222.8" y="908.5"/><use href="#mb" x="217.2" y="908.5"/><use href="#mb" x="211.7" y="908.5"/><use href="#mb" x="206.1" y="908.5"/><use href="#mb" x="200.6" y="908.5"/><use href="#mb" x="195" y="908.5"/><use href="#mb" x="189.5" y="908.5"/><use href="#mb" x="183.9" y="908.5"/><use href="#mb" x="178.4" y="908.5"/><use href="#mb" x="172.8" y="908.5"/><use href="#mb" x="167.3" y="908.5"/><use href="#mb" x="161.7" y="908.5"/><use href="#mb" x="156.2" y="908.5"/><use href="#mb" x="150.6" y="908.5"/></g><polyline points="150.6,908.5 156.2,908.5 161.7,908.5 167.3,908.5 172.8,908.5 178.4,908.5 183.9,908.5 189.5,908.5 195,908.5 200.6,908.5 206.1,908.5 211.7,908.5 217.2,908.5 222.8,908.5 228.3,908.5 233.9,908.5 239.4,908.5 245,908.5 250.5,908.5 256.1,908.5 261.6,908.5 267.2,907 272.7,878.6 278.3,774 283.8,644.6 289.4,537.6 294.9,479.8 300.5,435.2 306,405.4 311.6,387.3 317.1,372.1 322.7,358.8 328.2,351 333.8,341.5 339.3,331 344.9,324.7 350.4,320.5 356,313.7 361.5,308.7 367.1,304.4 372.6,300.7 378.2,296.2 383.7,289.9 389.3,284.7 394.8,279.6 400.4,275.8 405.9,272.4 411.5,268.6 417,266.6 422.6,260.8 428.1,257.3 433.7,255.4 439.3,251.6 444.8,248.3 450.4,244.2 455.9,240.1 461.5,234 467,232.4 472.6,227.8 478.1,225.3 483.7,223.3 489.2,220.9 494.8,219.4 500.3,216.4 505.9,214.2 511.4,212.4 517,209.3 522.5,209.2 528.1,205.7 533.6,203.5 539.2,204.2 544.7,200.5 550.3,197.7 555.8,198.2 561.4,194.7 566.9,194.2 572.5,191.3 578,190.4 583.6,187.8 589.1,186 594.7,185 600.2,184 605.8,183.3 611.3,183.6 616.9,179.9 622.4,180.7 628,178.7 633.5,178.3 639.1,176.5 644.6,175.9 650.2,175.8 655.7,174.9 661.3,175.2 666.8,174.1 672.4,175.2 677.9,173.8 683.5,173.2 689,173.5 694.6,172.6 700.1,171.9 705.7,171.8 711.3,171.7 716.8,172.5 722.4,172.2 727.9,171.5 733.5,171.4 739,169.7 744.6,169.9 750.1,167.9 755.7,169.7 761.2,168.3 766.8,168.1 772.3,168.1 777.9,167.4 783.4,166.9 789,167.9 794.5,166.8 800.1,165.8 805.6,166.7 811.2,164.9 816.7,167.4 822.3,165.9 827.8,166 833.4,167.7 838.9,167.6 844.5,165.9 850,166.3 855.6,166.6 861.1,167 866.7,165.6 872.2,165.7 877.8,166.6 883.3,165.8 888.9,166.1 894.4,165.9 900,164.5 905.5,164.5 911.1,162.9 916.6,164.6 922.2,165.6 927.7,163.5 933.3,165.2 938.8,165 944.4,164.3 949.9,164.5 955.5,164.9 961,164.5 966.6,165.3 972.1,165.9 977.7,166.7 983.2,167.1 988.8,166.2 994.4,167.8 999.9,166.8 1005.5,167.6 1011,168.3 1016.6,168.2 1022.1,168.4 1027.7,169 1033.2,168.6 1038.8,168.7 1044.3,169.4 1049.9,170.5 1055.4,169.9 1061,171.8 1066.5,170.7 1072.1,168.4 1077.6,170.7 1083.2,172.7 1088.7,171.7 1094.3,171.8 1099.8,172 1105.4,174.2 1110.9,174.3 1116.5,174.2 1122,174.1 1127.6,175 1133.1,174.6 1138.7,173.2 1144.2,175.1 1149.8,175.1 1155.3,175.4 1160.9,176.6 1166.4,176.6 1172,175 1177.5,179.3 1183.1,179.4 1188.6,178.4 1194.2,177.8 1199.7,177.9 1205.3,176.5 1210.8,178.6 1216.4,179.7 1221.9,181.3 1227.5,182.1 1233,182.7 1238.6,184.4 1244.1,184.9 1249.7,184.4 1255.2,184 1260.8,183.3 1266.4,184.6 1271.9,185.3 1277.5,182.7 1283,185 1288.6,182.7 1294.1,184.6 1299.7,185.6 1305.2,184.5 1310.8,184.5 1316.3,186 1321.9,186.6 1327.4,185.6" fill="none" stroke="#ff8810" stroke-width="3.4" stroke-linejoin="round"/><g><use href="#mr" x="1327.4" y="185.6"/><use href="#mr" x="1321.9" y="186.6"/><use href="#mr" x="1316.3" y="186"/><use href="#mr" x="1310.8" y="184.5"/><use href="#mr" x="1305.2" y="184.5"/><use href="#mr" x="1299.7" y="185.6"/><use href="#mr" x="1294.1" y="184.6"/><use href="#mr" x="1288.6" y="182.7"/><use href="#mr" x="1283" y="185"/><use href="#mr" x="1277.5" y="182.7"/><use href="#mr" x="1271.9" y="185.3"/><use href="#mr" x="1266.4" y="184.6"/><use href="#mr" x="1260.8" y="183.3"/><use href="#mr" x="1255.2" y="184"/><use href="#mr" x="1249.7" y="184.4"/><use href="#mr" x="1244.1" y="184.9"/><use href="#mr" x="1238.6" y="184.4"/><use href="#mr" x="1233" y="182.7"/><use href="#mr" x="1227.5" y="182.1"/><use href="#mr" x="1221.9" y="181.3"/><use href="#mr" x="1216.4" y="179.7"/><use href="#mr" x="1210.8" y="178.6"/><use href="#mr" x="1205.3" y="176.5"/><use href="#mr" x="1199.7" y="177.9"/><use href="#mr" x="1194.2" y="177.8"/><use href="#mr" x="1188.6" y="178.4"/><use href="#mr" x="1183.1" y="179.4"/><use href="#mr" x="1177.5" y="179.3"/><use href="#mr" x="1172" y="175"/><use href="#mr" x="1166.4" y="176.6"/><use href="#mr" x="1160.9" y="176.6"/><use href="#mr" x="1155.3" y="175.4"/><use href="#mr" x="1149.8" y="175.1"/><use href="#mr" x="1144.2" y="175.1"/><use href="#mr" x="1138.7" y="173.2"/><use href="#mr" x="1133.1" y="174.6"/><use href="#mr" x="1127.6" y="175"/><use href="#mr" x="1122" y="174.1"/><use href="#mr" x="1116.5" y="174.2"/><use href="#mr" x="1110.9" y="174.3"/><use href="#mr" x="1105.4" y="174.2"/><use href="#mr" x="1099.8" y="172"/><use href="#mr" x="1094.3" y="171.8"/><use href="#mr" x="1088.7" y="171.7"/><use href="#mr" x="1083.2" y="172.7"/><use href="#mr" x="1077.6" y="170.7"/><use href="#mr" x="1072.1" y="168.4"/><use href="#mr" x="1066.5" y="170.7"/><use href="#mr" x="1061" y="171.8"/><use href="#mr" x="1055.4" y="169.9"/><use href="#mr" x="1049.9" y="170.5"/><use href="#mr" x="1044.3" y="169.4"/><use href="#mr" x="1038.8" y="168.7"/><use href="#mr" x="1033.2" y="168.6"/><use href="#mr" x="1027.7" y="169"/><use href="#mr" x="1022.1" y="168.4"/><use href="#mr" x="1016.6" y="168.2"/><use href="#mr" x="1011" y="168.3"/><use href="#mr" x="1005.5" y="167.6"/><use href="#mr" x="999.9" y="166.8"/><use href="#mr" x="994.4" y="167.8"/><use href="#mr" x="988.8" y="166.2"/><use href="#mr" x="983.2" y="167.1"/><use href="#mr" x="977.7" y="166.7"/><use href="#mr" x="972.1" y="165.9"/><use href="#mr" x="966.6" y="165.3"/><use href="#mr" x="961" y="164.5"/><use href="#mr" x="955.5" y="164.9"/><use href="#mr" x="949.9" y="164.5"/><use href="#mr" x="944.4" y="164.3"/><use href="#mr" x="938.8" y="165"/><use href="#mr" x="933.3" y="165.2"/><use href="#mr" x="927.7" y="163.5"/><use href="#mr" x="922.2" y="165.6"/><use href="#mr" x="916.6" y="164.6"/><use href="#mr" x="911.1" y="162.9"/><use href="#mr" x="905.5" y="164.5"/><use href="#mr" x="900" y="164.5"/><use href="#mr" x="894.4" y="165.9"/><use href="#mr" x="888.9" y="166.1"/><use href="#mr" x="883.3" y="165.8"/><use href="#mr" x="877.8" y="166.6"/><use href="#mr" x="872.2" y="165.7"/><use href="#mr" x="866.7" y="165.6"/><use href="#mr" x="861.1" y="167"/><use href="#mr" x="855.6" y="166.6"/><use href="#mr" x="850" y="166.3"/><use href="#mr" x="844.5" y="165.9"/><use href="#mr" x="838.9" y="167.6"/><use href="#mr" x="833.4" y="167.7"/><use href="#mr" x="827.8" y="166"/><use href="#mr" x="822.3" y="165.9"/><use href="#mr" x="816.7" y="167.4"/><use href="#mr" x="811.2" y="164.9"/><use href="#mr" x="805.6" y="166.7"/><use href="#mr" x="800.1" y="165.8"/><use href="#mr" x="794.5" y="166.8"/><use href="#mr" x="789" y="167.9"/><use href="#mr" x="783.4" y="166.9"/><use href="#mr" x="777.9" y="167.4"/><use href="#mr" x="772.3" y="168.1"/><use href="#mr" x="766.8" y="168.1"/><use href="#mr" x="761.2" y="168.3"/><use href="#mr" x="755.7" y="169.7"/><use href="#mr" x="750.1" y="167.9"/><use href="#mr" x="744.6" y="169.9"/><use href="#mr" x="739" y="169.7"/><use href="#mr" x="733.5" y="171.4"/><use href="#mr" x="727.9" y="171.5"/><use href="#mr" x="722.4" y="172.2"/><use href="#mr" x="716.8" y="172.5"/><use href="#mr" x="711.3" y="171.7"/><use href="#mr" x="705.7" y="171.8"/><use href="#mr" x="700.1" y="171.9"/><use href="#mr" x="694.6" y="172.6"/><use href="#mr" x="689" y="173.5"/><use href="#mr" x="683.5" y="173.2"/><use href="#mr" x="677.9" y="173.8"/><use href="#mr" x="672.4" y="175.2"/><use href="#mr" x="666.8" y="174.1"/><use href="#mr" x="661.3" y="175.2"/><use href="#mr" x="655.7" y="174.9"/><use href="#mr" x="650.2" y="175.8"/><use href="#mr" x="644.6" y="175.9"/><use href="#mr" x="639.1" y="176.5"/><use href="#mr" x="633.5" y="178.3"/><use href="#mr" x="628" y="178.7"/><use href="#mr" x="622.4" y="180.7"/><use href="#mr" x="616.9" y="179.9"/><use href="#mr" x="611.3" y="183.6"/><use href="#mr" x="605.8" y="183.3"/><use href="#mr" x="600.2" y="184"/><use href="#mr" x="594.7" y="185"/><use href="#mr" x="589.1" y="186"/><use href="#mr" x="583.6" y="187.8"/><use href="#mr" x="578" y="190.4"/><use href="#mr" x="572.5" y="191.3"/><use href="#mr" x="566.9" y="194.2"/><use href="#mr" x="561.4" y="194.7"/><use href="#mr" x="555.8" y="198.2"/><use href="#mr" x="550.3" y="197.7"/><use href="#mr" x="544.7" y="200.5"/><use href="#mr" x="539.2" y="204.2"/><use href="#mr" x="533.6" y="203.5"/><use href="#mr" x="528.1" y="205.7"/><use href="#mr" x="522.5" y="209.2"/><use href="#mr" x="517" y="209.3"/><use href="#mr" x="511.4" y="212.4"/><use href="#mr" x="505.9" y="214.2"/><use href="#mr" x="500.3" y="216.4"/><use href="#mr" x="494.8" y="219.4"/><use href="#mr" x="489.2" y="220.9"/><use href="#mr" x="483.7" y="223.3"/><use href="#mr" x="478.1" y="225.3"/><use href="#mr" x="472.6" y="227.8"/><use href="#mr" x="467" y="232.4"/><use href="#mr" x="461.5" y="234"/><use href="#mr" x="455.9" y="240.1"/><use href="#mr" x="450.4" y="244.2"/><use href="#mr" x="444.8" y="248.3"/><use href="#mr" x="439.3" y="251.6"/><use href="#mr" x="433.7" y="255.4"/><use href="#mr" x="428.1" y="257.3"/><use href="#mr" x="422.6" y="260.8"/><use href="#mr" x="417" y="266.6"/><use href="#mr" x="411.5" y="268.6"/><use href="#mr" x="405.9" y="272.4"/><use href="#mr" x="400.4" y="275.8"/><use href="#mr" x="394.8" y="279.6"/><use href="#mr" x="389.3" y="284.7"/><use href="#mr" x="383.7" y="289.9"/><use href="#mr" x="378.2" y="296.2"/><use href="#mr" x="372.6" y="300.7"/><use href="#mr" x="367.1" y="304.4"/><use href="#mr" x="361.5" y="308.7"/><use href="#mr" x="356" y="313.7"/><use href="#mr" x="350.4" y="320.5"/><use href="#mr" x="344.9" y="324.7"/><use href="#mr" x="339.3" y="331"/><use href="#mr" x="333.8" y="341.5"/><use href="#mr" x="328.2" y="351"/><use href="#mr" x="322.7" y="358.8"/><use href="#mr" x="317.1" y="372.1"/><use href="#mr" x="311.6" y="387.3"/><use href="#mr" x="306" y="405.4"/><use href="#mr" x="300.5" y="435.2"/><use href="#mr" x="294.9" y="479.8"/><use href="#mr" x="289.4" y="537.6"/><use href="#mr" x="283.8" y="644.6"/><use href="#mr" x="278.3" y="774"/><use href="#mr" x="272.7" y="878.6"/><use href="#mr" x="267.2" y="907"/><use href="#mr" x="261.6" y="908.5"/><use href="#mr" x="256.1" y="908.5"/><use href="#mr" x="250.5" y="908.5"/><use href="#mr" x="245" y="908.5"/><use href="#mr" x="239.4" y="908.5"/><use href="#mr" x="233.9" y="908.5"/><use href="#mr" x="228.3" y="908.5"/><use href="#mr" x="222.8" y="908.5"/><use href="#mr" x="217.2" y="908.5"/><use href="#mr" x="211.7" y="908.5"/><use href="#mr" x="206.1" y="908.5"/><use href="#mr" x="200.6" y="908.5"/><use href="#mr" x="195" y="908.5"/><use href="#mr" x="189.5" y="908.5"/><use href="#mr" x="183.9" y="908.5"/><use href="#mr" x="178.4" y="908.5"/><use href="#mr" x="172.8" y="908.5"/><use href="#mr" x="167.3" y="908.5"/><use href="#mr" x="161.7" y="908.5"/><use href="#mr" x="156.2" y="908.5"/><use href="#mr" x="150.6" y="908.5"/></g></g><g font-family="Liberation Sans, sans-serif" font-weight="bold" font-size="42" fill="#000"><text x="132" y="919.7" text-anchor="end">0</text><text x="132" y="745.3" text-anchor="end">20</text><text x="132" y="570.8" text-anchor="end">40</text><text x="132" y="396.4" text-anchor="end">60</text><text x="132" y="221.9" text-anchor="end">80</text><text x="132" y="47.5" text-anchor="end">00</text><path d="M79.3,17.9V47.3H73.7V26.6L66.2,30.4V25.6L74.6,19.5L75.9,17.9Z"/><text x="327.5" y="967.6" text-anchor="middle">400</text><text x="549.5" y="967.6" text-anchor="middle">500</text><text x="771.6" y="967.6" text-anchor="middle">600</text><text x="993.6" y="967.6" text-anchor="middle">700</text><text x="1215.7" y="967.6" text-anchor="middle">800</text></g><g font-family="Liberation Serif, serif" font-weight="bold" fill="#000"><text x="773.5" y="1028" text-anchor="middle" font-size="45.8">Wavelength (nm)</text><text transform="translate(51.5,470.6) rotate(-90)" text-anchor="middle" font-size="47.5">T (%)</text></g><rect x="994" y="266.5" width="273" height="208.0" fill="#000"/><rect x="982" y="254.5" width="273" height="208.0" fill="#fff" stroke="#8c8c8c" stroke-width="1.6"/><line x1="997" y1="284" x2="1091" y2="284" stroke="#08a8a8" stroke-width="4"/><use href="#mt" x="1044" y="284"/><text x="1102" y="298.5" font-family="Liberation Serif, serif" font-weight="bold" font-size="42" fill="#000">T-70</text><circle cx="1193" cy="271.5" r="3.2" fill="none" stroke="#000" stroke-width="1.8"/><text transform="translate(1196,297.3) scale(0.88,1)" font-family="Liberation Serif, serif" font-size="44" fill="#000">C</text><line x1="997" y1="335.7" x2="1091" y2="335.7" stroke="#8a8a00" stroke-width="4"/><use href="#mo" x="1044" y="335.7"/><text x="1102" y="350.2" font-family="Liberation Serif, serif" font-weight="bold" font-size="42" fill="#000">T-80</text><circle cx="1193" cy="323.2" r="3.2" fill="none" stroke="#000" stroke-width="1.8"/><text transform="translate(1196,349) scale(0.88,1)" font-family="Liberation Serif, serif" font-size="44" fill="#000">C</text><line x1="997" y1="387.4" x2="1091" y2="387.4" stroke="#1414b0" stroke-width="4"/><use href="#mb" x="1044" y="387.4"/><text x="1102" y="401.9" font-family="Liberation Serif, serif" font-weight="bold" font-size="42" fill="#000">T-90</text><circle cx="1193" cy="374.9" r="3.2" fill="none" stroke="#000" stroke-width="1.8"/><text transform="translate(1196,400.7) scale(0.88,1)" font-family="Liberation Serif, serif" font-size="44" fill="#000">C</text><line x1="997" y1="439.1" x2="1091" y2="439.1" stroke="#ff8810" stroke-width="4"/><use href="#mr" x="1044" y="439.1"/><text x="1102" y="453.6" font-family="Liberation Serif, serif" font-weight="bold" font-size="42" fill="#000">T-100</text><circle cx="1214" cy="426.6" r="3.2" fill="none" stroke="#000" stroke-width="1.8"/><text transform="translate(1217,452.4) scale(0.88,1)" font-family="Liberation Serif, serif" font-size="44" fill="#000">C</text></svg></body></html>
